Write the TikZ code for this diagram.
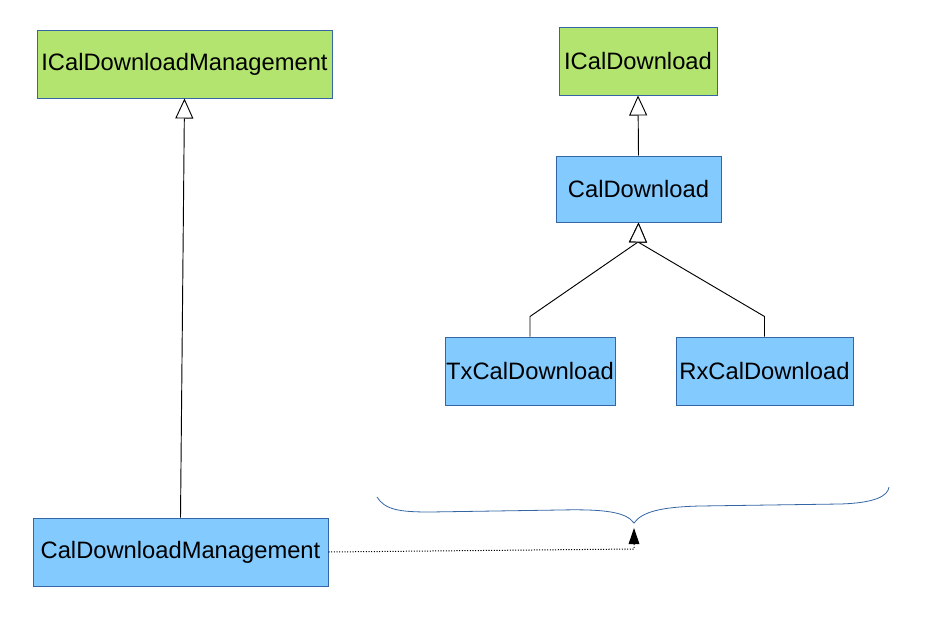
\documentclass[tikz,border=0pt]{standalone}
\usepackage{fontspec}
\setmainfont{Liberation Sans}
\usepackage{xcolor}
\usetikzlibrary{arrows.meta,calc,positioning}
\definecolor{ifgreen}{HTML}{B3E46F}
\definecolor{clsblue}{HTML}{83CAFF}
\definecolor{edgeblue}{HTML}{3465A4}

\begin{document}
\begin{tikzpicture}[x=0.75pt, y=-0.75pt,
                    box/.style={draw=edgeblue, line width=0.75pt, inner sep=0pt,
                                minimum height=51pt, font=\fontsize{17.8}{20}\selectfont},
                    iface/.style={box, fill=ifgreen},
                    cls/.style={box, fill=clsblue},
                    inherit/.style={line width=0.7pt, -{Triangle[open, fill=white, length=15pt, width=13.5pt]}},
                    uses/.style={line width=0.75pt, dash pattern=on 0.8pt off 1.2pt, -{Triangle[length=12pt, width=8pt]}}]
\useasboundingbox (0,0) rectangle (950,639);
\node[iface, minimum width=221.25pt] (icdm) at (184.5,64) {ICalDownloadManagement};
\node[iface, minimum width=118.5pt] (icd) at (638,61) {ICalDownload};
\node[cls, minimum width=123.75pt, minimum height=49.5pt] (cd) at (638.5,189) {CalDownload};
\node[cls, minimum width=127.5pt] (tx) at (530,371) {TxCalDownload};
\node[cls, minimum width=132.75pt] (rx) at (764.5,371) {RxCalDownload};
\node[cls, minimum width=221.25pt] (cdm) at (180.5,552) {CalDownloadManagement};
\coordinate (join) at (638,242);
\coordinate (bracetip) at (634,523);
\draw[inherit] (cdm.north) -- (icdm.south);
\draw[inherit] (cd.north) -- (icd.south);
\draw[inherit] (tx.north) -- ++(0,-20) -- (join) -- (cd.south);
\draw[inherit] (rx.north) -- ++(0,-20) -- (join) -- (cd.south);
\draw[edgeblue, line width=0.6pt] (377,497) .. controls (385,510) and (400,512) .. (430,512)
   -- (560,510) .. controls (605,509) and (626,512) .. (bracetip)
   .. controls (642,512) and (660,507) .. (700,506) -- (840,504)
   .. controls (875,503) and (888,496) .. (889,487);
\draw[uses] (cdm.east) -- (634,549) -- ($(bracetip)+(0,5)$);
\end{tikzpicture}
\end{document}
